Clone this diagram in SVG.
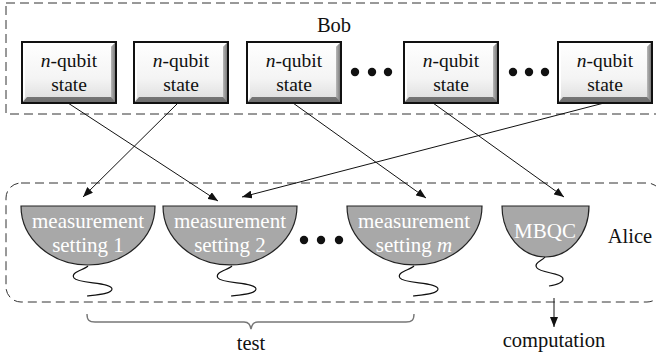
<svg xmlns="http://www.w3.org/2000/svg" width="656" height="362" viewBox="0 0 656 362" font-family="Liberation Serif, DejaVu Serif, serif">
  <defs>
    <style>
      .region { fill: none; stroke: #333; stroke-width: 1; stroke-dasharray: 9 5; }
      text { font-family: 'Liberation Serif', 'DejaVu Serif', serif; font-size: 19.5px; text-anchor: middle; }
      .lbl { fill: #111; }
      .big { font-size: 20.5px; }
      .wlbl { fill: #fff; font-size: 21px; }
      .bowl { fill: #a8a8a8; stroke: #222; stroke-width: 1.2; }
      .squig { fill: none; stroke: #111; stroke-width: 1.2; }
      .edge { fill: none; stroke: #111; stroke-width: 1; marker-end: url(#arrow); }
      .dot { fill: #111; }
    </style>
    <linearGradient id="face" x1="0" y1="0" x2="0" y2="1">
      <stop offset="0" stop-color="#ffffff"/>
      <stop offset="0.6" stop-color="#f4f4f4"/>
      <stop offset="1" stop-color="#dcdcdc"/>
    </linearGradient>
    <linearGradient id="bevelB" x1="0" y1="0" x2="0" y2="1">
      <stop offset="0" stop-color="#b8b8b8"/>
      <stop offset="1" stop-color="#6e6e6e"/>
    </linearGradient>
    <linearGradient id="bevelR" x1="0" y1="0" x2="1" y2="0">
      <stop offset="0" stop-color="#b8b8b8"/>
      <stop offset="1" stop-color="#6e6e6e"/>
    </linearGradient>
    <marker id="arrow" viewBox="0 0 10 8" refX="10" refY="4" markerWidth="10" markerHeight="8" markerUnits="userSpaceOnUse" orient="auto">
      <path d="M0,0 L10,4 L0,8 z" fill="#111"/>
    </marker>
    <!-- beveled state box, 94 x 61 -->
    <g id="statebox">
      <rect x="0" y="0" width="94" height="61" fill="url(#face)"/>
      <polygon points="0,61 94,61 94,0 89,5 89,55 5,55" fill="url(#bevelB)"/>
      <polygon points="94,0 94,61 89,55 89,5" fill="url(#bevelR)"/>
      <polygon points="0,0 94,0 89,3 3,3 3,55 0,61" fill="#ffffff"/>
      <rect x="0" y="0" width="94" height="61" fill="none" stroke="#111" stroke-width="2"/>
    </g>
    <path id="spring" class="squig" d="M0,0 C-4,4 -18,6 -14,12 C-10,18 24,16 24,23 C24,28 8,29 -1,30"/>
  </defs>

  <!-- Bob region -->
  <g id="bob">
    <rect class="region" x="6" y="3" width="700" height="111"/>
    <text class="lbl big" x="334" y="32">Bob</text>
  </g>

  <!-- Alice region -->
  <g id="alice">
    <rect class="region" x="6" y="183" width="656" height="119" rx="15" ry="15"/>
    <text class="lbl big" x="630" y="243">Alice</text>
  </g>

  <!-- n-qubit states -->
  <g id="state1">
    <use href="#statebox" x="22" y="42"/>
    <text class="lbl" x="69" y="67"><tspan font-style="italic">n</tspan>-qubit</text>
    <text class="lbl" x="69" y="91">state</text>
  </g>
  <g id="state2">
    <use href="#statebox" x="134" y="42"/>
    <text class="lbl" x="181" y="67"><tspan font-style="italic">n</tspan>-qubit</text>
    <text class="lbl" x="181" y="91">state</text>
  </g>
  <g id="state3">
    <use href="#statebox" x="247" y="42"/>
    <text class="lbl" x="294" y="67"><tspan font-style="italic">n</tspan>-qubit</text>
    <text class="lbl" x="294" y="91">state</text>
  </g>
  <g id="state4">
    <use href="#statebox" x="404" y="42"/>
    <text class="lbl" x="451" y="67"><tspan font-style="italic">n</tspan>-qubit</text>
    <text class="lbl" x="451" y="91">state</text>
  </g>
  <g id="state5">
    <use href="#statebox" x="558" y="42"/>
    <text class="lbl" x="605" y="67"><tspan font-style="italic">n</tspan>-qubit</text>
    <text class="lbl" x="605" y="91">state</text>
  </g>

  <!-- ellipses between states -->
  <g id="dots-top">
    <circle class="dot" cx="355" cy="72" r="4.2"/>
    <circle class="dot" cx="372" cy="72" r="4.2"/>
    <circle class="dot" cx="388" cy="72" r="4.2"/>
    <circle class="dot" cx="513" cy="72" r="4.2"/>
    <circle class="dot" cx="529" cy="72" r="4.2"/>
    <circle class="dot" cx="545" cy="72" r="4.2"/>
  </g>

  <!-- measurement devices -->
  <g id="meas1">
    <path class="bowl" d="M21,206 A67,59 0 0 0 155,206 Z"/>
    <text class="wlbl" x="88" y="228">measurement</text>
    <text class="wlbl" x="88" y="252">setting 1</text>
    <use href="#spring" x="88" y="266"/>
  </g>
  <g id="meas2">
    <path class="bowl" d="M163,206 A67,59 0 0 0 297,206 Z"/>
    <text class="wlbl" x="230" y="228">measurement</text>
    <text class="wlbl" x="230" y="252">setting 2</text>
    <use href="#spring" x="232" y="266"/>
  </g>
  <g id="measm">
    <path class="bowl" d="M347,206 A67.5,59 0 0 0 482,206 Z"/>
    <text class="wlbl" x="414" y="228">measurement</text>
    <text class="wlbl" x="414" y="252">setting <tspan font-style="italic">m</tspan></text>
    <use href="#spring" x="414" y="266"/>
  </g>
  <g id="mbqc">
    <path class="bowl" d="M502,206 A43.5,51 0 0 0 589,206 Z"/>
    <text class="wlbl" x="545" y="238">MBQC</text>
    <path class="squig" d="M545,257 C542,261 533,263 537,268 C541,273 563,273 563,279 C563,283 555,285 549,286"/>
  </g>

  <g id="dots-bottom">
    <circle class="dot" cx="304" cy="240" r="4.2"/>
    <circle class="dot" cx="321" cy="240" r="4.2"/>
    <circle class="dot" cx="339" cy="240" r="4.2"/>
  </g>

  <!-- connectors -->
  <g id="connectors">
    <line class="edge" x1="68" y1="103" x2="218" y2="201"/>
    <line class="edge" x1="178" y1="103" x2="83" y2="197"/>
    <line class="edge" x1="293" y1="103" x2="426" y2="198"/>
    <line class="edge" x1="433" y1="103" x2="564" y2="197"/>
    <line class="edge" x1="604" y1="103" x2="242" y2="197"/>
    <line class="edge" x1="554" y1="298" x2="554" y2="327"/>
  </g>

  <!-- test brace -->
  <g id="test">
    <path d="M87,314 C87,320 89,322 95,322 L244,322 C249,322 250,325 251,329 C252,325 253,322 258,322 L406,322 C412,322 414,320 414,314" fill="none" stroke="#777" stroke-width="1.4"/>
    <text class="lbl big" x="251" y="350">test</text>
  </g>

  <g id="computation">
    <text class="lbl big" x="554" y="347">computation</text>
  </g>
</svg>
